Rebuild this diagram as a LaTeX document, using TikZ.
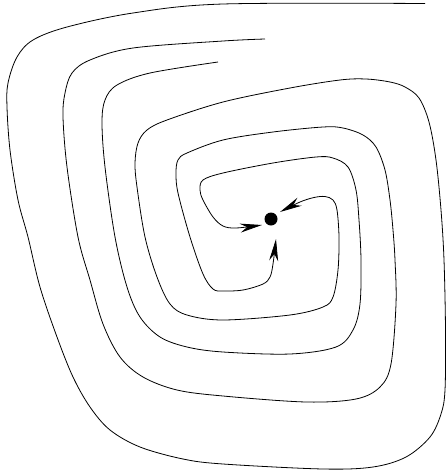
\documentclass[tikz,border=0pt]{standalone}
\usetikzlibrary{arrows.meta,calc}
\tikzset{
  orbit/.style={line width=0.8pt, -{Stealth[length=22pt,width=9pt,inset=7pt]}},
  fixpt/.style={circle, fill=black, inner sep=0pt, minimum size=13pt}
}
\begin{document}
\begin{tikzpicture}[x=1pt,y=-1pt]
\useasboundingbox (0,0) rectangle (446,474);
\node[fixpt] (dot) at (271,219) {};
\coordinate (tipA) at ($(dot)+(9,-7)$);
\coordinate (tipB) at ($(dot)+(5,20)$);
\coordinate (tipC) at ($(dot)+(-9,6)$);
% outermost orbit
\draw[orbit] plot[smooth, tension=0.55] coordinates {
 (425,3.5) (223,4) (133,13) (67,27) (33,40) (17,57) (8,83) (7,107) (10,150) (18,200) (28,237)
 (40,287) (57,337) (73,377) (90,407) (110,430) (140,447) (183,459) (223,464) (323,469) (373,467)
 (406,457) (430,437) (441,414) (445,390) (445.5,330) (444,260) (441,210) (436,160) (429,122) (419,98) (405,87)
 (390,82) (366,79) (340,80) (290,88) (223,102) (167,120) (147,130) (138,143) (135,163) (137,187)
 (145,237) (157,277) (170,304) (187,315) (223,320) (290,315) (323,307) (333,297) (338,270) (339,237)
 (337,210) (333,200) (325,196.5) (314,197.5) (300,202) (tipA)};
% middle orbit
\draw[orbit] plot[smooth, tension=0.55] coordinates {
 (265,39) (223,41) (133,48) (90,60) (72,73) (65,93) (63,117) (67,167) (78,237) (90,280) (103,324)
 (120,357) (143,377) (177,390) (223,396) (306,402) (356,399) (380,387) (391,364) (396,304) (395,260)
 (393,230) (390,200) (385,170) (376,147) (363,135) (343,128) (323,127) (273,132) (223,140) (187,153)
 (178,160) (176,173) (178,193) (190,237) (203,274) (213,289) (223,291) (243,290) (263,284) (270,277)
 (273,264) (tipB)};
% inner orbit
\draw[orbit] plot[smooth, tension=0.55] coordinates {
 (218,62) (150,73) (117,85) (105,100) (102,123) (105,167) (115,237) (127,287) (140,317) (160,337)
 (187,347) (223,352) (290,354) (336,347) (353,330) (360,304) (361,260) (359,220) (356,190) (348,167)
 (333,158) (316,157) (273,163) (223,173) (203,180) (200,190) (203,200) (213,217) (223,226) (236,228)
 (tipC)};
\end{tikzpicture}
\end{document}
